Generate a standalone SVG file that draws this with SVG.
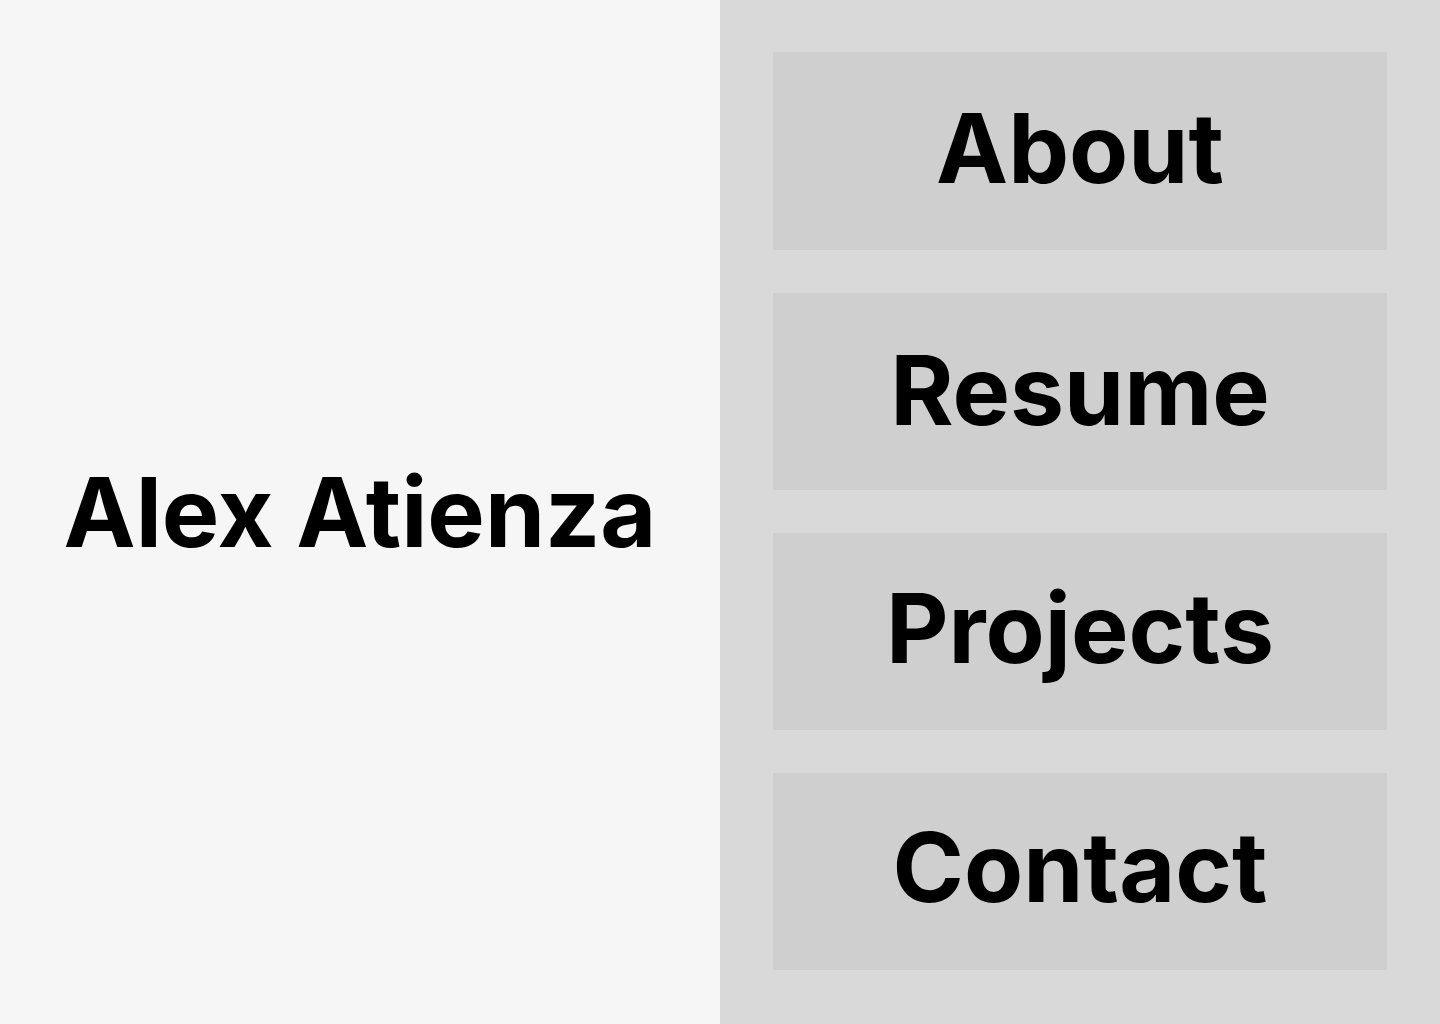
<svg xmlns="http://www.w3.org/2000/svg" width="1440" height="1024" viewBox="0 0 1440 1024">
<style>
.t{font-family:Inter,"Liberation Sans",sans-serif;font-weight:700;font-size:96.6px;fill:#000;text-anchor:middle}
.btn{fill:#cfcfcf}
</style>
<rect x="0" y="0" width="720" height="1024" fill="#f6f6f6"/>
<rect x="720" y="0" width="720" height="1024" fill="#d9d9d9"/>
<g id="name"><text class="t" x="360" y="547">Alex Atienza</text></g>
<g id="about"><rect class="btn" x="773" y="52" width="614" height="198"/><text class="t" x="1080" y="183">About</text></g>
<g id="resume"><rect class="btn" x="773" y="293" width="614" height="197"/><text class="t" x="1080" y="425">Resume</text></g>
<g id="projects"><rect class="btn" x="773" y="533" width="614" height="197"/><text class="t" x="1080" y="663">Projects</text></g>
<g id="contact"><rect class="btn" x="773" y="773" width="614" height="197"/><text class="t" x="1080" y="902">Contact</text></g>
<g id="connectors"/>
</svg>
